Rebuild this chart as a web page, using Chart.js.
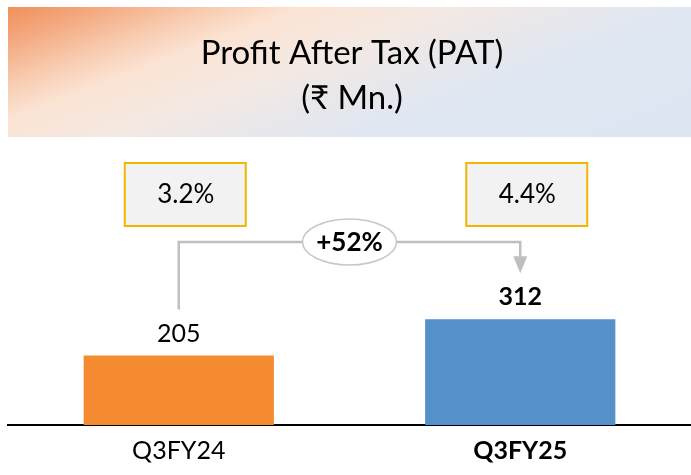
<!DOCTYPE html>
<html>
<head>
<meta charset="utf-8">
<script src="https://cdn.jsdelivr.net/npm/chart.js@4.4.1/dist/chart.umd.min.js"></script>
<style>
  html, body { margin: 0; padding: 0; background: #fff; }
  #wrap { width: 691px; height: 475px; position: relative; }
</style>
</head>
<body>
<div id="wrap"><canvas id="patChart"></canvas></div>
<script>
const categories = ['Q3FY24', 'Q3FY25'];
const patValues = [205, 312];
const marginLabels = ['3.2%', '4.4%'];
const growthLabel = '+52%';
const titleLines = ['Profit After Tax (PAT)', '(₹ Mn.)'];
const barColors = ['#f58b30', '#5591c8'];

const FONT = 'Lato, "Open Sans", sans-serif';

// header band, margin boxes, growth connector and value labels
const decorPlugin = {
  id: 'decor',
  beforeDraw(chart) {
    const ctx = chart.ctx;
    ctx.save();
    const g = ctx.createLinearGradient(0, 0, 135, 355);
    g.addColorStop(0, '#ef8a50');
    g.addColorStop(0.1, '#f3a57a');
    g.addColorStop(0.22, '#f8cdb2');
    g.addColorStop(0.3, '#fbe3d3');
    g.addColorStop(0.44, '#f4e9e3');
    g.addColorStop(0.56, '#e8e7eb');
    g.addColorStop(0.68, '#dfe7f2');
    g.addColorStop(1, '#dce7f3');
    ctx.fillStyle = g;
    ctx.fillRect(8, 7, 683, 130);
    ctx.fillStyle = '#000';
    ctx.textAlign = 'center';
    ctx.textBaseline = 'middle';
    ctx.font = '33px ' + FONT;
    ctx.fillText(titleLines[0], 352, 53);
    ctx.fillText(titleLines[1], 352, 98);
    ctx.restore();
  },
  afterDatasetsDraw(chart) {
    const ctx = chart.ctx;
    const x = chart.scales.x;
    const y = chart.scales.y;
    const x0 = x.getPixelForValue(0);
    const x1 = x.getPixelForValue(1);
    const y0 = y.getPixelForValue(patValues[0]);
    const y1 = y.getPixelForValue(patValues[1]);
    ctx.save();

    // value labels
    ctx.textAlign = 'center';
    ctx.textBaseline = 'middle';
    ctx.fillStyle = '#000';
    ctx.font = '25px ' + FONT;
    ctx.fillText(String(patValues[0]), x0, y0 - 22);
    ctx.font = 'bold 25px ' + FONT;
    ctx.fillText(String(patValues[1]), x1, y1 - 22);

    // margin boxes
    [x0, x1].forEach((cx, i) => {
      ctx.fillStyle = '#f2f2f2';
      ctx.fillRect(cx - 54, 163, 121, 63);
      ctx.strokeStyle = '#f3b600';
      ctx.lineWidth = 2;
      ctx.strokeRect(cx - 54, 163, 121, 63);
      ctx.fillStyle = '#000';
      ctx.font = '26px ' + FONT;
      ctx.fillText(marginLabels[i], cx + 7, 195);
    });

    // growth connector
    const hy = 242;
    ctx.strokeStyle = '#bfbfbf';
    ctx.lineWidth = 2.5;
    ctx.beginPath();
    ctx.moveTo(x0, y0 - 46);
    ctx.lineTo(x0, hy);
    ctx.lineTo(x1, hy);
    ctx.lineTo(x1, y1 - 62);
    ctx.stroke();
    ctx.fillStyle = '#bfbfbf';
    ctx.beginPath();
    ctx.moveTo(x1 - 7, y1 - 63);
    ctx.lineTo(x1 + 7, y1 - 63);
    ctx.lineTo(x1, y1 - 46);
    ctx.closePath();
    ctx.fill();

    const ex = (x0 + x1) / 2;
    ctx.fillStyle = '#fff';
    ctx.strokeStyle = '#c8c8c8';
    ctx.lineWidth = 1.5;
    ctx.beginPath();
    ctx.ellipse(ex, hy, 47, 23, 0, 0, Math.PI * 2);
    ctx.fill();
    ctx.stroke();
    ctx.fillStyle = '#000';
    ctx.font = 'bold 26px ' + FONT;
    ctx.fillText(growthLabel, ex, hy + 1);

    ctx.restore();
  }
};

new Chart(document.getElementById('patChart'), {
  type: 'bar',
  data: {
    labels: categories,
    datasets: [{
      data: patValues,
      backgroundColor: barColors,
      barPercentage: 0.557,
      categoryPercentage: 1
    }]
  },
  options: {
    responsive: true,
    maintainAspectRatio: false,
    animation: false,
    events: [],
    layout: { padding: { top: 289, left: 8, right: 0, bottom: 6 } },
    plugins: { legend: { display: false }, tooltip: { enabled: false } },
    scales: {
      x: {
        grid: { display: false },
        border: { display: true, color: '#000', width: 2 },
        ticks: {
          color: '#000',
          padding: 3,
          font: (c) => ({ family: FONT, size: 25, weight: c.index === 1 ? 'bold' : 'normal' })
        }
      },
      y: { display: false, min: 0, max: 401 }
    }
  },
  plugins: [decorPlugin]
});
</script>
</body>
</html>
